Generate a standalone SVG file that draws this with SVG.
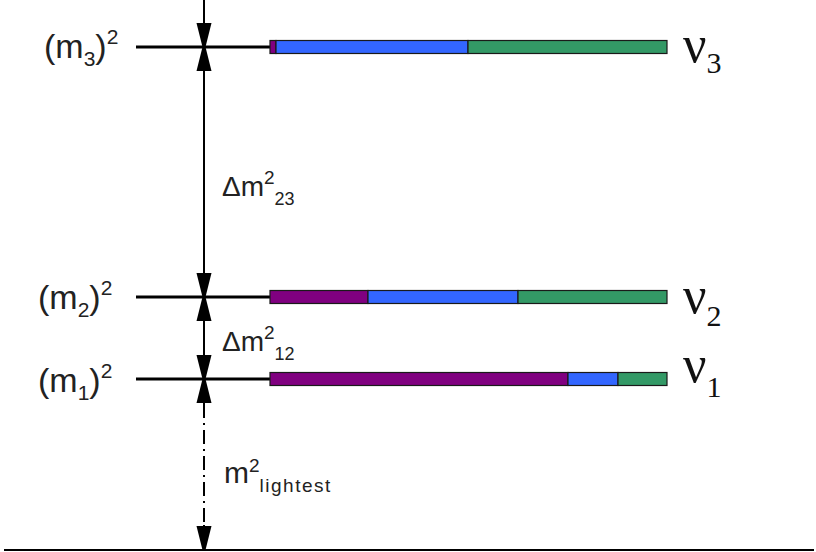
<svg xmlns="http://www.w3.org/2000/svg" width="816" height="552" viewBox="0 0 816 552">
<defs>
<style>
.lbl{font-family:"Liberation Sans",Arial,sans-serif;fill:#222}
.nu{font-family:"Liberation Serif","Times New Roman",serif;fill:#111}
.ln{stroke:#000;stroke-width:3;fill:none}
.bar{stroke:#1a1a1a;stroke-width:1.2}
.p{fill:#800080}.b{fill:#3366ff}.g{fill:#339966}
</style>
<marker id="ah" viewBox="0 0 24 16" refX="24" refY="8" markerWidth="24" markerHeight="16" markerUnits="userSpaceOnUse" orient="auto">
<path d="M0,0.5 L24,6.5 L24,9.5 L0,15.5 Z" fill="#000"/>
</marker>
</defs>
<rect width="816" height="552" fill="#fff"/>
<g id="connectors">
<line x1="204" y1="0" x2="204" y2="47" stroke="#000" stroke-width="2" marker-end="url(#ah)"/>
<line x1="204" y1="72" x2="204" y2="47" stroke="#000" stroke-width="2" marker-end="url(#ah)"/>
<line x1="204" y1="72" x2="204" y2="272" stroke="#000" stroke-width="2"/>
<line x1="204" y1="250" x2="204" y2="297" stroke="#000" stroke-width="2" marker-end="url(#ah)"/>
<line x1="204" y1="322" x2="204" y2="297" stroke="#000" stroke-width="2" marker-end="url(#ah)"/>
<line x1="204" y1="322" x2="204" y2="379" stroke="#000" stroke-width="2" marker-end="url(#ah)"/>
<line x1="204" y1="404" x2="204" y2="379" stroke="#000" stroke-width="2" marker-end="url(#ah)"/>
<line x1="204" y1="404" x2="204" y2="525" stroke="#000" stroke-width="2" stroke-dasharray="14,5,2,5"/>
<line x1="204" y1="525" x2="204" y2="550" stroke="#000" stroke-width="2" marker-end="url(#ah)"/>
<line x1="4" y1="550" x2="814" y2="550" stroke="#000" stroke-width="2"/>
</g>
<g id="level3">
<line class="ln" x1="136" y1="47" x2="271" y2="47"/>
<rect class="bar p" x="270" y="40.5" width="6" height="13"/>
<rect class="bar b" x="276" y="40.5" width="192" height="13"/>
<rect class="bar g" x="468" y="40.5" width="199" height="13"/>
<text class="lbl" x="44" y="58" font-size="34">(m<tspan font-size="21" dy="8">3</tspan><tspan dy="-8">)</tspan><tspan font-size="21" dy="-14">2</tspan></text>
<text class="nu" x="683" y="62" font-size="52">ν<tspan font-size="30" dy="11">3</tspan></text>
</g>
<g id="level2">
<line class="ln" x1="136" y1="297" x2="271" y2="297"/>
<rect class="bar p" x="270" y="290.5" width="98" height="13"/>
<rect class="bar b" x="368" y="290.5" width="150" height="13"/>
<rect class="bar g" x="518" y="290.5" width="149" height="13"/>
<text class="lbl" x="38" y="309" font-size="34">(m<tspan font-size="21" dy="8">2</tspan><tspan dy="-8">)</tspan><tspan font-size="21" dy="-14">2</tspan></text>
<text class="nu" x="683" y="313" font-size="52">ν<tspan font-size="30" dy="13">2</tspan></text>
</g>
<g id="level1">
<line class="ln" x1="136" y1="379" x2="271" y2="379"/>
<rect class="bar p" x="270" y="372.5" width="298" height="13"/>
<rect class="bar b" x="568" y="372.5" width="50" height="13"/>
<rect class="bar g" x="618" y="372.5" width="49" height="13"/>
<text class="lbl" x="38" y="392" font-size="34">(m<tspan font-size="21" dy="8">1</tspan><tspan dy="-8">)</tspan><tspan font-size="21" dy="-14">2</tspan></text>
<text class="nu" x="683" y="382" font-size="52">ν<tspan font-size="30" dy="15">1</tspan></text>
</g>
<g id="dm23">
<text class="lbl" x="222" y="196" font-size="28" fill="#333">Δm<tspan font-size="19" dy="-12">2</tspan><tspan font-size="18" dy="21">23</tspan></text>
</g>
<g id="dm12">
<text class="lbl" x="222" y="351" font-size="28" fill="#333">Δm<tspan font-size="19" dy="-12">2</tspan><tspan font-size="18" dy="21">12</tspan></text>
</g>
<g id="mlightest">
<text class="lbl" x="224" y="483" font-size="30" fill="#333">m<tspan font-size="19" dy="-11">2</tspan><tspan font-size="19" dy="20" letter-spacing="1.5">lightest</tspan></text>
</g>
</svg>
